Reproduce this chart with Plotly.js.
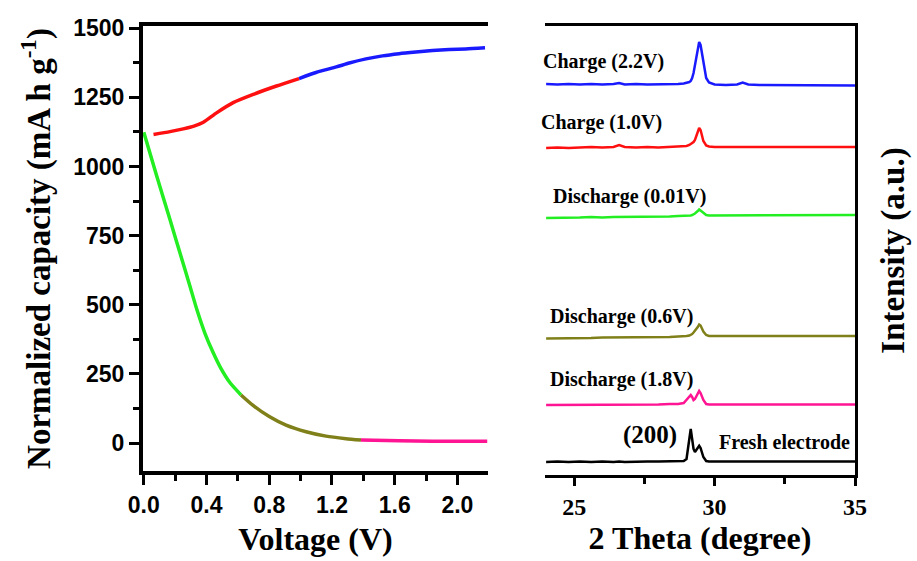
<!DOCTYPE html>
<html><head><meta charset="utf-8">
<script src="https://cdn.plot.ly/plotly-3.0.1.min.js"></script>
<style>html,body{margin:0;padding:0;background:#fff}#chart{width:917px;height:561px}</style>
</head><body><div id="chart"></div>
<script>
// ---------- Left panel: normalized capacity vs voltage ----------
const chargeRedV  = [0.062, 0.167, 0.252, 0.320, 0.380, 0.464, 0.570, 0.698, 0.846, 0.990];
const chargeRedC  = [1116, 1126, 1136, 1146, 1160, 1194, 1231, 1261, 1291, 1318];
const chargeBlueV = [0.990, 1.098, 1.228, 1.310, 1.417, 1.522, 1.628, 1.735, 1.841, 1.947, 2.053, 2.176];
const chargeBlueC = [1318, 1340, 1360, 1374, 1389, 1400, 1408, 1414, 1419, 1423, 1425, 1429];
const dischGreenV = [0.0, 0.083, 0.167, 0.231, 0.295, 0.340, 0.390, 0.440, 0.490, 0.550, 0.620];
const dischGreenC = [1124, 965, 808, 687, 566, 480, 397, 330, 272, 218, 174];
const dischOliveV = [0.620, 0.695, 0.800, 0.907, 1.035, 1.162, 1.289, 1.385];
const dischOliveC = [174, 137, 96, 65, 41, 25, 16, 11];
const dischPinkV  = [1.385, 1.628, 1.840, 2.190];
const dischPinkC  = [11, 8.5, 7, 7];

// ---------- Right panel: XRD patterns (stacked, a.u.) ----------
const twoTheta = [24.0, 24.4, 24.8, 25.2, 25.6, 26.0, 26.4, 26.6, 26.8, 27.2, 27.6, 28.0, 28.4, 28.7, 28.9,
  29.0, 29.1, 29.15, 29.2, 29.25, 29.3, 29.4, 29.45, 29.5, 29.6, 29.7, 29.8, 30.0, 30.4, 30.8, 31.0, 31.2,
  31.6, 32.0, 32.5, 33.0, 33.5, 34.0, 34.4, 34.8, 35.0];
const xrdCharge22 = [391, 390.5, 391, 390.5, 391, 390.5, 391, 392, 390.5, 391, 390.5, 390.5, 391, 391, 391.5,
  392, 393, 394, 397, 402, 410, 428, 433, 430, 412, 397, 392.5, 390.5, 390, 390.5, 392.5, 390.5,
  390, 390, 389.5, 390, 389.5, 390, 389.5, 389.5, 389.5];
const xrdCharge10 = [327, 327.5, 327, 327.5, 328, 327.5, 328, 330, 328, 327.5, 328, 327.5, 328, 328, 328.5,
  329, 330, 331, 332, 333, 335, 344, 347, 345, 334, 329.5, 328.5, 328, 328, 328, 328.5, 328,
  328.5, 328, 328, 328.5, 328, 328, 328.5, 328, 328];
const xrdDisch001 = [257, 257, 257.5, 257.5, 258, 257.5, 258, 258, 258, 258.5, 258, 258.5, 258.5, 259, 259,
  259, 259.5, 259.5, 260, 260.5, 261.5, 264, 265.5, 264.5, 262, 260, 259.5, 259.5, 259.5, 259.5, 259.5, 259.5,
  260, 259.5, 260, 259.5, 260, 260, 259.5, 260, 260];
const xrdDisch06 = [136.5, 136.5, 137, 137, 137, 137.5, 137.5, 137.5, 137.5, 138, 137.5, 138, 138, 138.5, 138.5,
  139, 139.5, 140, 141, 142.5, 144, 148, 150.5, 149.5, 143.5, 140, 139, 139, 138.5, 139, 139, 139,
  138.5, 139, 139, 139, 139, 139, 139, 139, 139];
const xrdDisch18 = [70, 70, 70.5, 70, 70, 70.5, 70, 70.5, 70, 70.5, 70.5, 70.5, 71, 71, 72,
  75, 79, 80, 78, 75, 76, 82, 84, 82, 75, 71, 70.5, 70.5, 70.5, 70.5, 70.5, 70.5,
  70.5, 70.5, 70.5, 70.5, 70.5, 70.5, 70.5, 70.5, 70.5];
const xrdFresh = [13, 13.5, 13, 13.5, 13, 13.5, 13, 13.5, 13, 13.5, 13.5, 13.5, 13.5, 13.5, 14,
  16, 38, 46, 36, 26, 23, 27.5, 29.3, 27, 18, 14, 13.5, 13.5, 13.5, 13.5, 14, 13.5,
  13.5, 13.5, 13.5, 13.5, 13.5, 13.5, 13.5, 13.5, 13.5];

const xrdLabels = ['Charge (2.2V)', 'Charge (1.0V)', 'Discharge (0.01V)', 'Discharge (0.6V)', 'Discharge (1.8V)', 'Fresh electrode'];

const serif = 'Liberation Serif, Times New Roman, serif';
const sans = 'Liberation Sans, Arial, sans-serif';

function seg(x, y, color, w, xa, ya, smooth) {
  return {x: x, y: y, type: 'scatter', mode: 'lines',
          line: smooth ? {color: color, width: w, shape: 'spline', smoothing: 0.6} : {color: color, width: w},
          xaxis: xa, yaxis: ya, hoverinfo: 'skip', cliponaxis: false};
}

const data = [
  seg(chargeRedV, chargeRedC, '#ff1010', 3.5, 'x', 'y', true),
  seg(chargeBlueV, chargeBlueC, '#1a1aff', 3.5, 'x', 'y', true),
  seg(dischGreenV, dischGreenC, '#22ee22', 3.5, 'x', 'y', true),
  seg(dischOliveV, dischOliveC, '#80801a', 3.5, 'x', 'y', true),
  seg(dischPinkV, dischPinkC, '#ff1493', 3.5, 'x', 'y', true),
  seg(twoTheta, xrdCharge22, '#1a1aff', 2.5, 'x2', 'y2', false),
  seg(twoTheta, xrdCharge10, '#ff1010', 2.5, 'x2', 'y2', false),
  seg(twoTheta, xrdDisch001, '#22ee22', 2.5, 'x2', 'y2', false),
  seg(twoTheta, xrdDisch06, '#80801a', 2.5, 'x2', 'y2', false),
  seg(twoTheta, xrdDisch18, '#ff1493', 2.5, 'x2', 'y2', false),
  seg(twoTheta, xrdFresh, '#000000', 2.5, 'x2', 'y2', false)
];

const H = 561, W = 917;
const axBase = {showline: true, linecolor: '#000', showgrid: false, zeroline: false, automargin: false,
  tickcolor: '#000', ticks: 'outside'};

// label anchor positions in pixels (left edge, vertical middle, font size)
const labelPos = [[542, 62, 20], [540, 122, 20], [552, 197, 20], [549, 316, 20], [549, 379, 20], [718, 442, 20], [622, 435, 25]];
const labelTexts = xrdLabels.concat(['(200)']);

const layout = {
  width: W, height: H, margin: {l: 0, r: 0, t: 0, b: 0}, showlegend: false,
  paper_bgcolor: '#fff', plot_bgcolor: '#fff',
  xaxis: Object.assign({}, axBase, {
    domain: [143 / W, 488 / W], range: [-0.005, 2.195], anchor: 'y', linewidth: 4, mirror: true,
    tick0: 0, dtick: 0.4, tickformat: '.1f', ticklen: 10, tickwidth: 3,
    minor: {dtick: 0.2, tick0: 0, ticks: 'outside', ticklen: 6, tickwidth: 3, tickcolor: '#000', showgrid: false},
    tickfont: {family: sans, size: 23, weight: 'bold', color: '#000'},
    title: {text: 'Voltage (V)', font: {family: serif, size: 32, weight: 'bold', color: '#000'}, standoff: 12}
  }),
  yaxis: Object.assign({}, axBase, {
    domain: [1 - 471 / H, 1 - 26 / H], range: [-101, 1508], anchor: 'x', linewidth: 4,
    tick0: 0, dtick: 250, ticklen: 10, tickwidth: 3,
    minor: {dtick: 125, tick0: 0, ticks: 'outside', ticklen: 6, tickwidth: 3, tickcolor: '#000', showgrid: false},
    tickfont: {family: sans, size: 23, weight: 'bold', color: '#000'},
    title: {text: 'Normalized capacity (mA h g<sup>-1</sup>)', font: {family: serif, size: 33, weight: 'bold', color: '#000'}, standoff: 14}
  }),
  xaxis2: Object.assign({}, axBase, {
    domain: [545 / W, 855 / W], range: [23.96, 35], anchor: 'y2', linewidth: 3, mirror: true,
    tick0: 25, dtick: 5, ticklen: 8, tickwidth: 3,
    minor: {dtick: 2.5, tick0: 25, ticks: 'outside', ticklen: 6, tickwidth: 3, tickcolor: '#000', showgrid: false},
    tickfont: {family: serif, size: 24, weight: 'bold', color: '#000'},
    title: {text: '2 Theta (degree)', font: {family: serif, size: 32, weight: 'bold', color: '#000'}, standoff: 8}
  }),
  yaxis2: Object.assign({}, axBase, {
    domain: [1 - 475 / H, 1 - 26 / H], range: [0, 449], anchor: 'x2', side: 'right', linewidth: 3,
    ticks: '', showticklabels: false,
    title: {text: 'Intensity (a.u.)', font: {family: serif, size: 33, weight: 'bold', color: '#000'}, standoff: 24}
  }),
  annotations: labelTexts.map((t, i) => ({
    text: t, x: labelPos[i][0] / W, y: 1 - labelPos[i][1] / H, xref: 'paper', yref: 'paper',
    xanchor: 'left', yanchor: 'middle', showarrow: false, borderpad: 0,
    font: {family: serif, size: labelPos[i][2], weight: 'bold', color: '#000'}
  }))
};

Plotly.newPlot('chart', data, layout, {staticPlot: true, displayModeBar: false});
</script>
</body></html>
